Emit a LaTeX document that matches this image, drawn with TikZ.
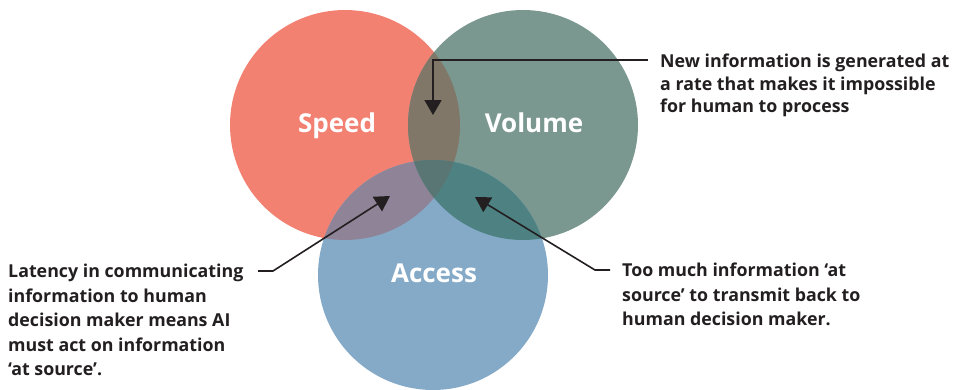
\documentclass[tikz,border=0pt]{standalone}
\usepackage{fontspec}
\setmainfont{Open Sans}
\usetikzlibrary{arrows.meta}
\definecolor{cspeed}{HTML}{F38172}
\definecolor{cvolume}{HTML}{7A988F}
\definecolor{caccess}{HTML}{85AAC8}
\definecolor{csv}{HTML}{807768}
\definecolor{csa}{HTML}{8F8497}
\definecolor{cva}{HTML}{4E8282}
\definecolor{call}{HTML}{597675}
\definecolor{ctext}{HTML}{231F20}
\begin{document}
\begin{tikzpicture}[x=1pt,y=-1pt,
  venn/.style={text=white,font=\fontsize{26}{30}\selectfont\bfseries,inner sep=0pt},
  note/.style={text=ctext,font=\fontsize{17.8}{24.5}\selectfont\bfseries,align=left,inner sep=0pt},
  pointer/.style={draw=ctext,line width=1.6pt,-{Triangle[width=17pt,length=15pt]}}]
\useasboundingbox (0,0) rectangle (956,389);
\coordinate (S) at (345,125);
\coordinate (V) at (523,125);
\coordinate (A) at (433,275);
\fill[cspeed] (S) circle[radius=115pt];
\fill[cvolume] (V) circle[radius=115pt];
\fill[caccess] (A) circle[radius=115pt];
\begin{scope}
  \clip (S) circle[radius=115pt];
  \fill[csv] (V) circle[radius=115pt];
  \fill[csa] (A) circle[radius=115pt];
\end{scope}
\begin{scope}
  \clip (V) circle[radius=115pt];
  \fill[cva] (A) circle[radius=115pt];
\end{scope}
\begin{scope}
  \clip (S) circle[radius=115pt];
  \clip (V) circle[radius=115pt];
  \fill[call] (A) circle[radius=115pt];
\end{scope}
\node[venn,anchor=base] (speed) at (337,132) {Speed};
\node[venn,anchor=base] (volume) at (534,132) {Volume};
\node[venn,anchor=base] (access) at (434,282) {Access};
\node[note,anchor=base west,font=\fontsize{17.8}{22.5}\selectfont\bfseries] (new) at (660,112.7)
  {New information is generated at\\a rate that makes it impossible\\for human to process};
\node[note,anchor=base west] (lat) at (8,375.7)
  {Latency in communicating\\information to human\\decision maker means AI\\must act on information\\‘at source’.};
\node[note,anchor=base west] (too) at (622,325.5)
  {Too much information ‘at\\source’ to transmit back to\\human decision maker.};
\coordinate (n0) at (648,60);
\coordinate (t1) at (433,115);
\coordinate (l0) at (258,271);
\coordinate (l1) at (273,271);
\coordinate (t2) at (390,196);
\coordinate (r0) at (610,270);
\coordinate (r1) at (595,270);
\coordinate (t3) at (475,197);
\draw[pointer] (n0) -| (t1);
\draw[pointer] (l0) -- (l1) -- (t2);
\draw[pointer] (r0) -- (r1) -- (t3);
\end{tikzpicture}
\end{document}
